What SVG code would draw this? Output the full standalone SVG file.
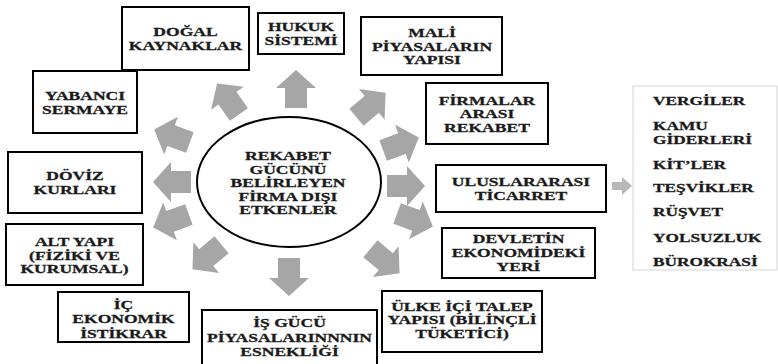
<svg xmlns="http://www.w3.org/2000/svg" xmlns:xlink="http://www.w3.org/1999/xlink" width="778" height="364" viewBox="0 0 778 364">
<style>
.box{fill:#fff;stroke:#000;stroke-width:2}
.t{font-family:"Liberation Serif","Times New Roman",serif;font-weight:bold;font-size:13.5px;fill:#1a1a1a;stroke:#1a1a1a;stroke-width:0.3;text-anchor:middle}
.l{font-family:"Liberation Serif","Times New Roman",serif;font-weight:bold;font-size:13.5px;fill:#1a1a1a;stroke:#1a1a1a;stroke-width:0.3;text-anchor:start}
.ar{fill:#a6a6a6}
</style>
<defs>
<path id="ba" d="M-19,-11 L1,-11 L1,-20 L19,0 L1,20 L1,11 L-19,11 Z"/>
</defs>
<rect width="778" height="364" fill="#fff"/>
<g id="connectors" class="ar">
<use xlink:href="#ba" transform="translate(296,89) rotate(-90)"/>
<use xlink:href="#ba" transform="translate(228,99) rotate(-125)"/>
<use xlink:href="#ba" transform="translate(172,136) rotate(-160)"/>
<use xlink:href="#ba" transform="translate(172,182) rotate(180)"/>
<use xlink:href="#ba" transform="translate(171,221) rotate(160)"/>
<use xlink:href="#ba" transform="translate(207,257) rotate(140)"/>
<use xlink:href="#ba" transform="translate(289,277) rotate(90)"/>
<use xlink:href="#ba" transform="translate(385,261) rotate(40)"/>
<use xlink:href="#ba" transform="translate(415,220) rotate(20)"/>
<use xlink:href="#ba" transform="translate(406,186)"/>
<use xlink:href="#ba" transform="translate(401,144) rotate(-20)"/>
<use xlink:href="#ba" transform="translate(371,105) rotate(-40)"/>
<path d="M612,182 L622,182 L622,177 L632,186 L622,195 L622,190 L612,190 Z" fill="#b8b8b8"/>
</g>
<g id="center">
<ellipse cx="289" cy="182" rx="92" ry="65" fill="#fff" stroke="#000" stroke-width="2"/>
<text class="t" transform="translate(288,0) scale(1.3,1)"><tspan x="0" y="160">REKABET</tspan><tspan x="0" y="174">GÜCÜNÜ</tspan><tspan x="0" y="187.5">BELİRLEYEN</tspan><tspan x="0" y="201">FİRMA DIŞI</tspan><tspan x="0" y="214.5">ETKENLER</tspan></text>
</g>
<g id="dogal">
<rect class="box" x="122" y="7" width="127" height="63"/>
<text class="t" transform="translate(185.5,0) scale(1.3,1)"><tspan x="0" y="36.5">DOĞAL</tspan><tspan x="0" y="50">KAYNAKLAR</tspan></text>
</g>
<g id="yabanci">
<rect class="box" x="33" y="71" width="104" height="62"/>
<text class="t" transform="translate(85,0) scale(1.3,1)"><tspan x="0" y="100.5">YABANCI</tspan><tspan x="0" y="114.5">SERMAYE</tspan></text>
</g>
<g id="hukuk">
<rect class="box" x="258" y="13" width="86" height="41"/>
<text class="t" transform="translate(301,0) scale(1.3,1)"><tspan x="0" y="31">HUKUK</tspan><tspan x="0" y="45">SİSTEMİ</tspan></text>
</g>
<g id="mali">
<rect class="box" x="361" y="17" width="141" height="58"/>
<text class="t" transform="translate(432,0) scale(1.3,1)"><tspan x="0" y="37.5">MALİ</tspan><tspan x="0" y="51">PİYASALARIN</tspan><tspan x="0" y="64.5">YAPISI</tspan></text>
</g>
<g id="firmalar">
<rect class="box" x="426" y="83" width="122" height="61"/>
<text class="t" transform="translate(487,0) scale(1.3,1)"><tspan x="0" y="105">FİRMALAR</tspan><tspan x="0" y="118.5">ARASI</tspan><tspan x="0" y="132">REKABET</tspan></text>
</g>
<g id="doviz">
<rect class="box" x="8" y="152" width="134" height="61"/>
<text class="t" transform="translate(75,0) scale(1.3,1)"><tspan x="0" y="180">DÖVİZ</tspan><tspan x="0" y="194">KURLARI</tspan></text>
</g>
<g id="altyapi">
<rect class="box" x="6" y="224" width="137" height="61"/>
<text class="t" transform="translate(74.5,0) scale(1.3,1)"><tspan x="0" y="246">ALT YAPI</tspan><tspan x="0" y="260">(FİZİKİ VE</tspan><tspan x="0" y="273.5">KURUMSAL)</tspan></text>
</g>
<g id="ic">
<rect class="box" x="58" y="292" width="131" height="50"/>
<text class="t" transform="translate(123.5,0) scale(1.3,1)"><tspan x="0" y="309">İÇ</tspan><tspan x="0" y="323.5">EKONOMİK</tspan><tspan x="0" y="338">İSTİKRAR</tspan></text>
</g>
<g id="isgucu">
<rect class="box" x="202" y="310" width="175" height="56"/>
<text class="t" transform="translate(289.5,0) scale(1.3,1)"><tspan x="0" y="327">İŞ GÜCÜ</tspan><tspan x="0" y="342">PİYASALARINNNIN</tspan><tspan x="0" y="356">ESNEKLİĞİ</tspan></text>
</g>
<g id="ulke">
<rect class="box" x="382" y="291" width="160" height="61"/>
<text class="t" transform="translate(462,0) scale(1.3,1)"><tspan x="0" y="311">ÜLKE İÇİ TALEP</tspan><tspan x="0" y="324.5">YAPISI (BİLİNÇLİ</tspan><tspan x="0" y="338">TÜKETİCİ)</tspan></text>
</g>
<g id="devlet">
<rect class="box" x="442" y="228" width="153" height="50"/>
<text class="t" transform="translate(518.5,0) scale(1.3,1)"><tspan x="0" y="243.5">DEVLETİN</tspan><tspan x="0" y="257.5">EKONOMİDEKİ</tspan><tspan x="0" y="271.5">YERİ</tspan></text>
</g>
<g id="uluslararasi">
<rect class="box" x="436" y="165" width="170" height="47"/>
<text class="t" transform="translate(521,0) scale(1.3,1)"><tspan x="0" y="186">ULUSLARARASI</tspan><tspan x="0" y="200">TİCARRET</tspan></text>
</g>
<g id="liste">
<rect x="633" y="86" width="144" height="184" fill="#fff" stroke="#d4d4d4" stroke-width="1"/>
<text class="l" transform="translate(653,0) scale(1.28,1)"><tspan x="0" y="105">VERGİLER</tspan><tspan x="0" y="130">KAMU</tspan><tspan x="0" y="144">GİDERLERİ</tspan><tspan x="0" y="169">KİT’LER</tspan><tspan x="0" y="192">TEŞVİKLER</tspan><tspan x="0" y="216.5">RÜŞVET</tspan><tspan x="0" y="242">YOLSUZLUK</tspan><tspan x="0" y="266">BÜROKRASİ</tspan></text>
</g>
</svg>
